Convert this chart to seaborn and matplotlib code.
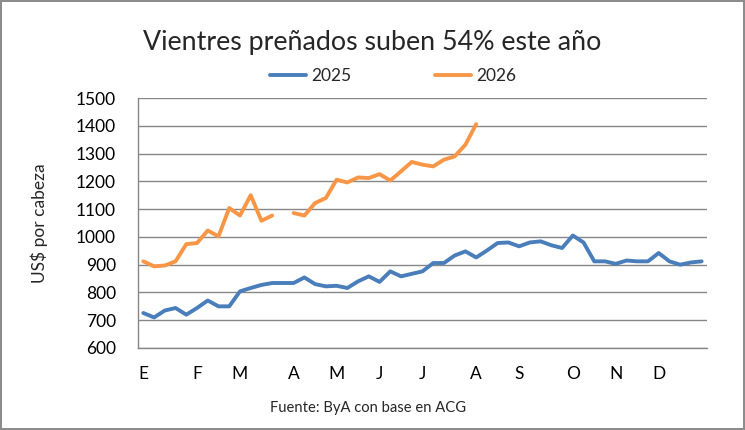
import numpy as np
import pandas as pd
import matplotlib
matplotlib.use("Agg")
import matplotlib.pyplot as plt
import seaborn as sns

# ===================== DATOS =====================
valores_2025 = [726, 710, 735, 744, 720, 744, 771, 750, 750, 804,
                816, 827, 834, 834, 834, 854, 830, 822, 824, 816,
                840, 858, 838, 876, 858, 867, 876, 906, 906, 933,
                948, 926, 951, 978, 980, 966, 980, 984, 970, 960,
                1005, 980, 912, 912, 903, 915, 912, 912, 942, 912,
                900, 908, 912]
valores_2026 = [912, 894, 897, 912, 974, 978, 1023, 1002, 1104, 1077,
                1150, 1058, 1077, np.nan, 1086, 1077, 1122, 1140, 1206, 1196,
                1214, 1212, 1226, 1203, 1236, 1270, 1260, 1254, 1278, 1290,
                1332, 1406]
meses = ["E", "F", "M", "A", "M", "J", "J", "A", "S", "O", "N", "D"]
semana_mes = [0, 5, 9, 14, 18, 22, 26, 31, 35, 40, 44, 48]

titulo = "Vientres preñados suben 54% este año"
fuente = "Fuente: ByA con base en ACG"

# ===================== TABLA LARGA =====================
filas = []
for i, v in enumerate(valores_2025):
    filas.append({"semana": i, "valor": v, "anio": "2025", "tramo": "2025-0"})
tramo = 0
for i, v in enumerate(valores_2026):
    if np.isnan(v):
        tramo += 1  # hueco en la serie
        continue
    filas.append({"semana": i, "valor": v, "anio": "2026", "tramo": f"2026-{tramo}"})
df = pd.DataFrame(filas)

# ===================== GRAFICO =====================
sns.set_style("white")
plt.rcParams["font.family"] = ["Lato", "DejaVu Sans"]

fig = plt.figure(figsize=(7.45, 4.30), dpi=100)
ax = fig.add_axes([0.1852, 0.1907, 0.949 - 0.1852, 0.772 - 0.1907])

colores = {"2025": "#4A7EBB", "2026": "#F79646"}
sns.lineplot(data=df, x="semana", y="valor", hue="anio", units="tramo",
             estimator=None, palette=colores, linewidth=2.8, ax=ax)

ax.set_xlim(-0.5, len(valores_2025) - 0.5)
ax.set_ylim(600, 1500)
ax.set_yticks(range(600, 1501, 100))
ax.set_xticks(semana_mes)
ax.set_xticklabels(meses)
ax.tick_params(axis="both", length=0, labelsize=12.5, colors="black")
ax.tick_params(axis="x", pad=13)
ax.tick_params(axis="y", pad=16)
ax.set_xlabel("")
ax.set_ylabel("US$ por cabeza", fontsize=12.5, labelpad=20)

ax.grid(axis="y", color="#878787", linewidth=1)
ax.set_axisbelow(True)
for lado in ["top", "right"]:
    ax.spines[lado].set_visible(False)
for lado in ["left", "bottom"]:
    ax.spines[lado].set_color("#878787")
    ax.spines[lado].set_linewidth(1)

ax.legend(loc="center", bbox_to_anchor=(0.5275, 0.823), bbox_transform=fig.transFigure,
          ncol=2, frameon=False, fontsize=12.5, handlelength=2.1,
          columnspacing=4.8, handletextpad=0.3)

fig.text(0.5, 0.902, titulo, ha="center", va="center", fontsize=19.3)
fig.text(0.494, 0.051, fuente, ha="center", va="center", fontsize=10.6)

fig.patch.set_edgecolor("#8C8C8C")
fig.patch.set_linewidth(1.5)
fig.savefig("out.png", dpi=100, facecolor="white", edgecolor=fig.get_edgecolor())
